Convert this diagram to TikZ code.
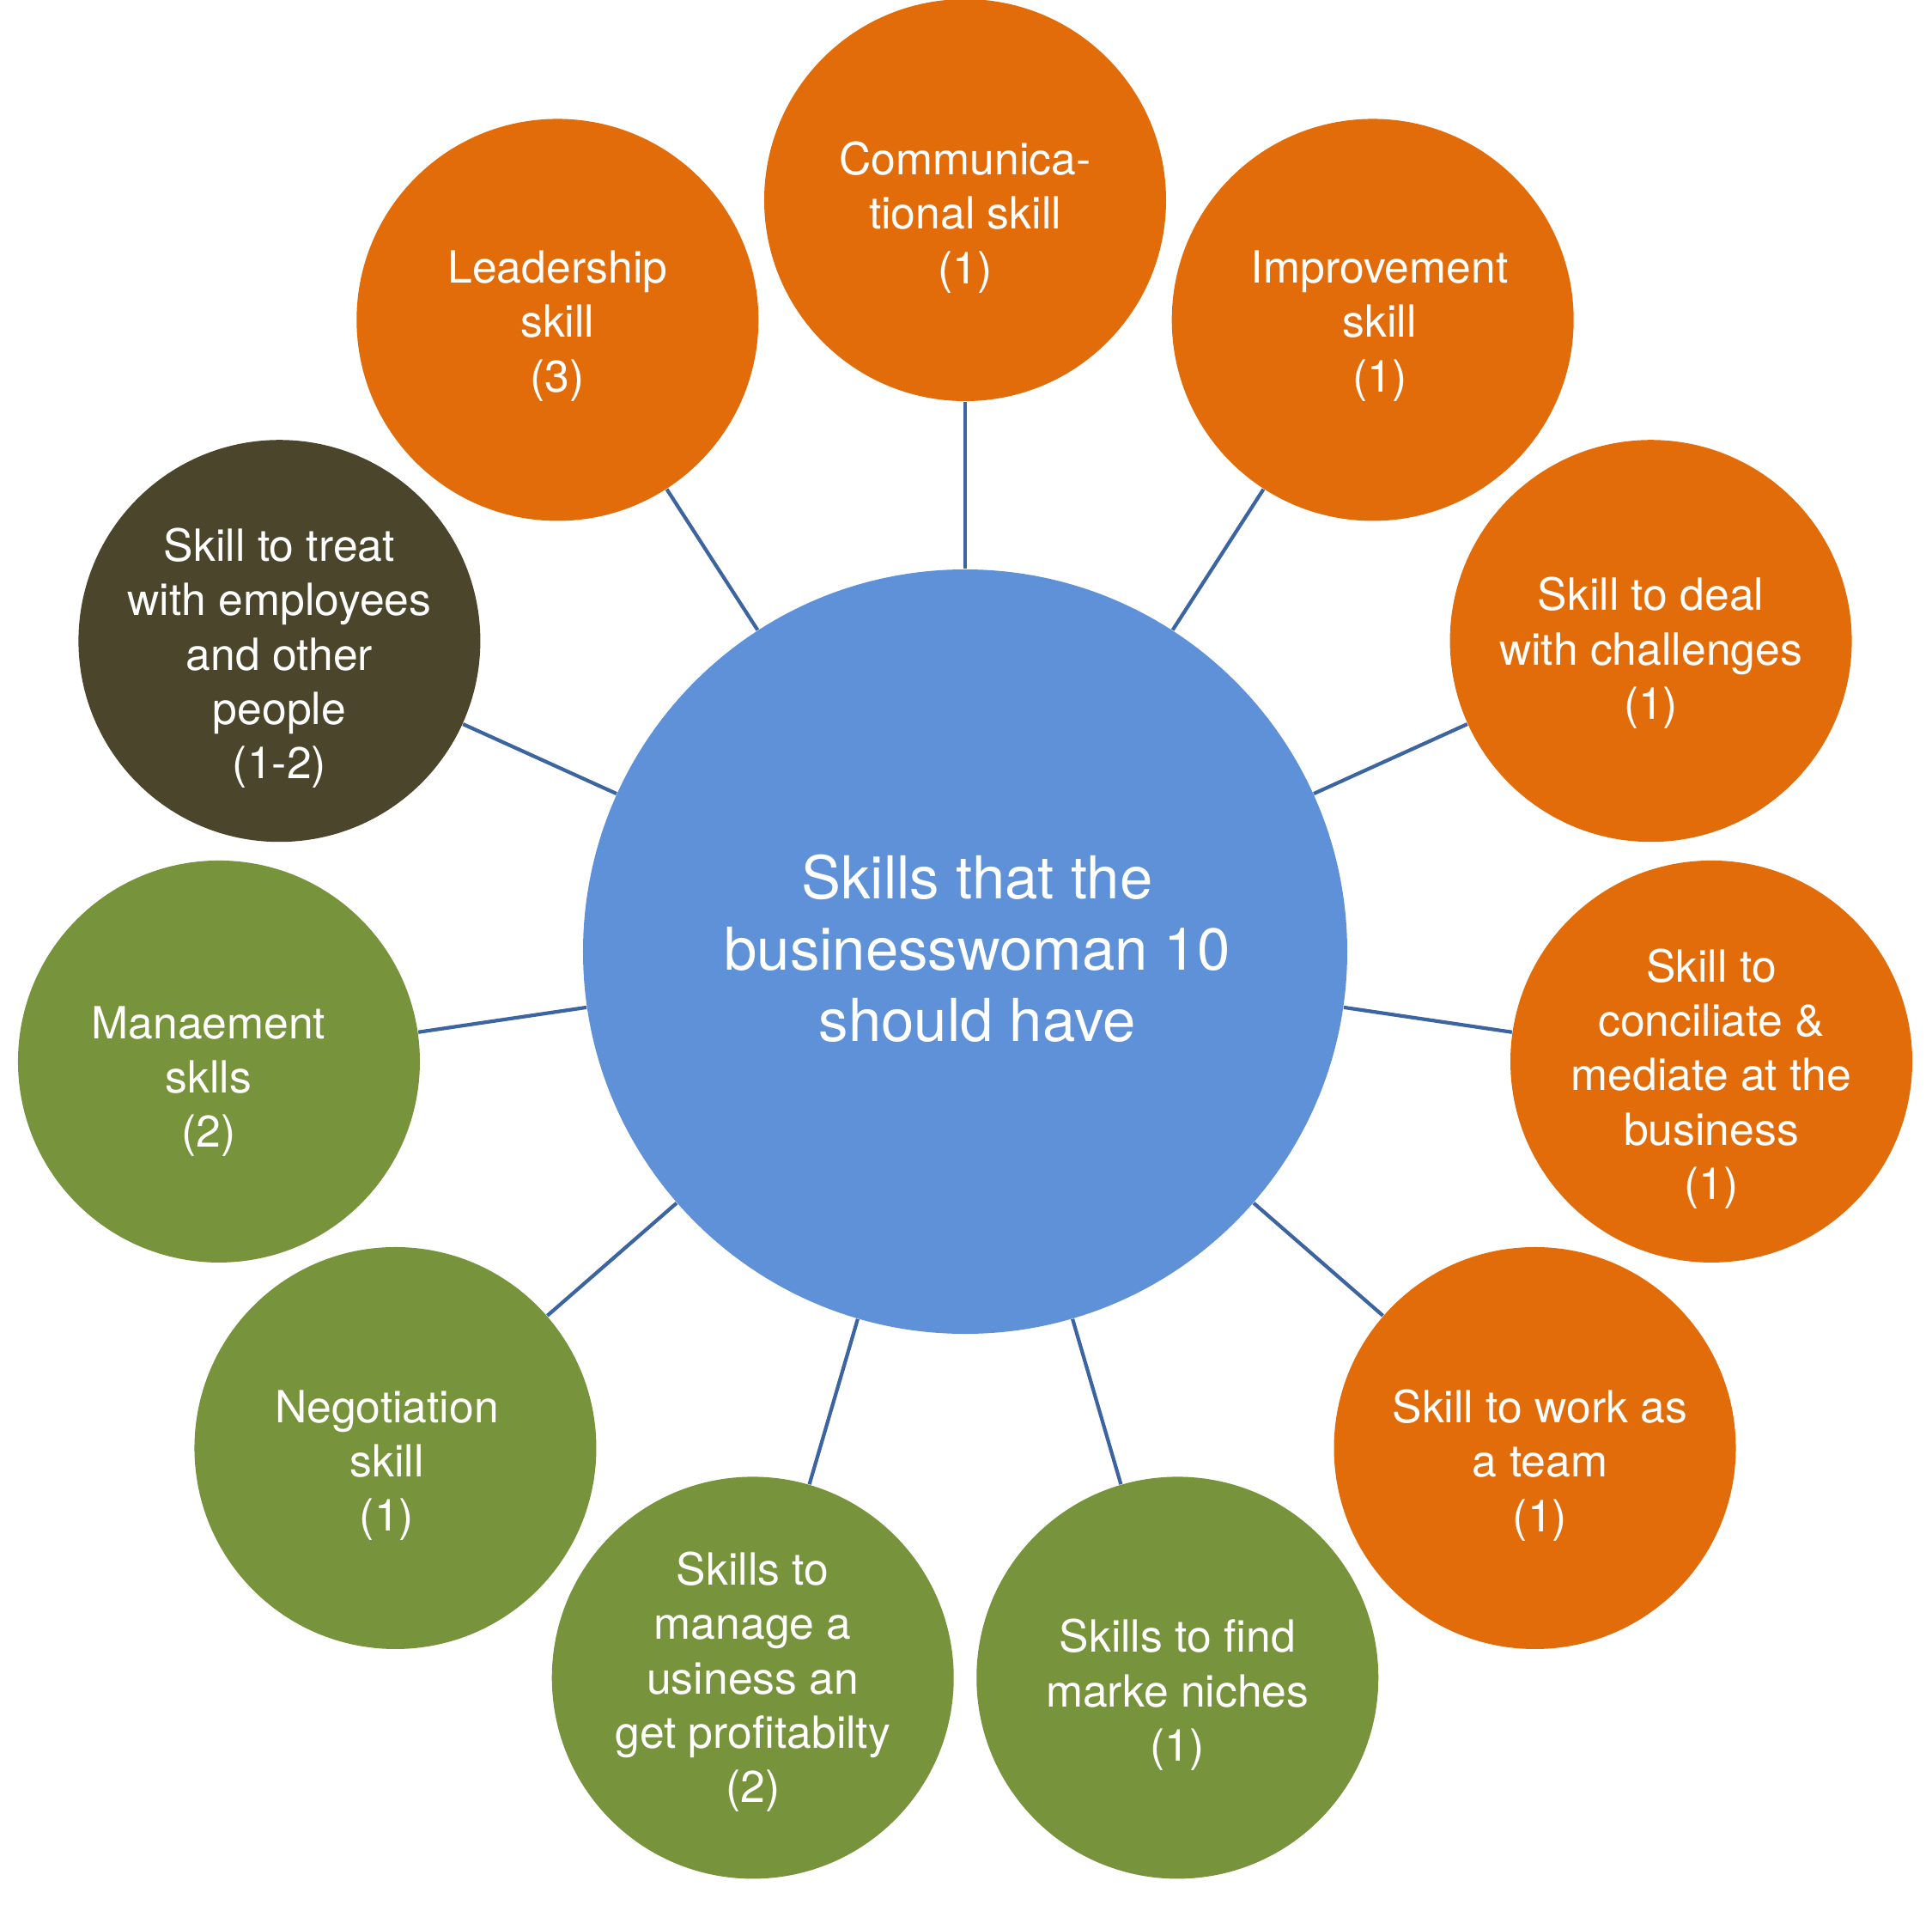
\documentclass[tikz,border=0pt]{standalone}
\usepackage{fontspec}
\setmainfont{TeX Gyre Heros}
\usetikzlibrary{positioning}
\definecolor{skillorange}{HTML}{E36C0A}
\definecolor{skillgreen}{HTML}{77933C}
\definecolor{skilldark}{HTML}{4A452B}
\definecolor{hubblue}{HTML}{5E91D8}
\definecolor{spoke}{HTML}{3C64A0}
\tikzset{
  skill/.style={circle,minimum size=46.8mm,inner sep=0pt},
  skilltext/.style={align=center,text=white,yshift=-2mm,
    font=\fontsize{14.7}{18}\selectfont},
  hub/.style={circle,fill=hubblue,minimum size=89mm,inner sep=0pt},
  hubtext/.style={align=center,text=white,xshift=1.4mm,yshift=0.4mm,
    font=\fontsize{19.6}{23.6}\selectfont},
  link/.style={draw=spoke,line width=1.2pt}
}

\begin{document}
\begin{tikzpicture}[x=1mm,y=1mm]
        \useasboundingbox (-112.4,-110.6) rectangle (112.6,111.1);
        \node[hub,label={[hubtext]center:{Skills that the\\businesswoman 10\\should have}}] (hub) at (0,0.3) {};
        \node[skill,fill=skillorange,label={[skilltext]center:{Communica-\\tional skill\\(1)}}] (comm) at (90:87.8) {};
        \node[skill,fill=skillorange,label={[skilltext,yshift=1.3mm,xshift=0.8mm]center:{Improvement\\skill\\(1)}}] (impr) at (57.27:87.8) {};
        \node[skill,fill=skillorange,label={[skilltext,yshift=0.6mm]center:{Skill to deal\\with challenges\\(1)}}] (chal) at (24.55:87.8) {};
        \node[skill,fill=skillorange,label={[skilltext]center:{Skill to\\conciliate \&\\mediate at the\\business\\(1)}}] (conc) at (-8.18:87.8) {};
        \node[skill,fill=skillorange,label={[skilltext,xshift=0.6mm]center:{Skill to work as\\a team\\(1)}}] (team) at (-40.91:87.8) {};
        \node[skill,fill=skillgreen,label={[skilltext]center:{Skills to find\\marke niches\\(1)}}] (nich) at (-73.64:87.8) {};
        \node[skill,fill=skillgreen,label={[skilltext,yshift=1.5mm]center:{Skills to\\manage a\\usiness an\\get profitabilty\\(2)}}] (prof) at (-106.36:87.8) {};
        \node[skill,fill=skillgreen,label={[skilltext,xshift=-1mm]center:{Negotiation\\skill\\(1)}}] (nego) at (-139.09:87.8) {};
        \node[skill,fill=skillgreen,label={[skilltext,xshift=-1.2mm,yshift=-0.3mm]center:{Manaement\\sklls\\(2)}}] (mana) at (-171.82:87.8) {};
        \node[skill,fill=skilldark,label={[skilltext]center:{Skill to treat\\with employees\\and other\\people\\(1-2)}}] (empl) at (155.45:87.8) {};
        \node[skill,fill=skillorange,label={[skilltext,yshift=1.3mm]center:{Leadership\\skill\\(3)}}] (lead) at (122.73:87.8) {};
        \foreach \s in {comm,impr,chal,conc,team,nich,prof,nego,mana,empl,lead}
            \draw[link] (hub) -- (\s);
\end{tikzpicture}
\end{document}
